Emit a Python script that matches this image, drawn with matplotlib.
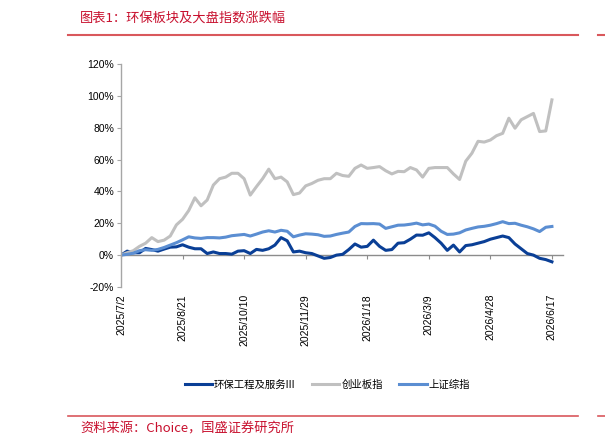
import matplotlib
matplotlib.use("Agg")
import matplotlib.pyplot as plt
import pandas as pd

plt.rcParams['font.family'] = ['Liberation Sans', 'Noto Sans CJK SC', 'DejaVu Sans']

# data, one value every 5 days from 2025/7/2
dates = pd.date_range('2025-07-02', periods=71, freq='5D')

hb = [0, 2.5, 1.5, 1.5, 4.2, 3.5, 2.5, 3.8, 5, 5.2,
      6.5, 5, 4, 4, 1, 2, 1, 1, 0.6, 2.5,
      2.8, 1, 3.6, 3, 4, 6.3, 11, 9, 2, 2.5,
      1.5, 1, -0.5, -2, -1.5, 0, 0.5, 3.5, 7, 5,
      5.5, 9.4, 5.5, 3, 3.5, 7.5, 7.8, 10, 12.6, 12.5,
      14, 11, 7.5, 3, 6.3, 2, 6, 6.5, 7.5, 8.5,
      10, 11, 12, 11, 7, 4, 1, 0, -2, -2.8, -4.2]

cyb = [0, 1.5, 2.8, 5.5, 7.5, 11, 8.5, 9.4, 12, 19,
       22.5, 28, 36, 31, 34.6, 44, 48, 49, 51.4, 51.4,
       48, 37.7, 43, 48, 54, 48, 49, 46, 38, 39,
       43.5, 45, 47, 48, 48, 51.4, 50, 49.5, 54.5, 56.6,
       54.5, 55, 55.6, 53, 51, 52.6, 52.4, 55, 53.5, 49,
       54.5, 55, 55, 55, 51, 47.5, 59, 64, 71.5, 71,
       72.3, 75, 76.5, 86, 79.7, 85, 87, 89, 77.6, 78, 97.5]

sz = [0, 0.5, 1.2, 2.8, 3.4, 3, 3.6, 4.8, 6.3, 7.8,
      9.6, 11.5, 10.8, 10.5, 11, 11, 10.8, 11.3, 12.2, 12.6,
      13, 12, 13.2, 14.5, 15.3, 14.5, 15.6, 15, 11.5, 12.6,
      13.4, 13.2, 12.8, 11.8, 12, 13, 13.8, 14.5, 18, 19.8,
      19.7, 19.8, 19.5, 16.8, 17.8, 18.8, 18.9, 19.4, 20.1, 19,
      19.5, 18.2, 15, 13, 13.2, 14, 15.8, 16.8, 17.7, 18.1,
      18.8, 19.8, 21, 19.8, 20, 18.8, 17.8, 16.5, 14.8, 17.5, 18]

names = ['环保工程及服务III', '创业板指', '上证综指']
colors = ['#0a3f96', '#c0c0c0', '#5b8ed2']

tick_dates = pd.date_range('2025-07-02', periods=8, freq='50D')

fig = plt.figure(figsize=(6.05, 4.47), dpi=100)
ax = fig.add_axes([0.2, 0.358, 0.7306, 0.4987])

for vals, name, c in zip([hb, cyb, sz], names, colors):
    ax.plot(dates, vals, color=c, lw=2.2, label=name, solid_joinstyle='round')

ax.set_ylim(-20, 120)
ax.set_yticks(range(-20, 121, 20))
ax.set_yticklabels([f'{v}%' for v in range(-20, 121, 20)], fontsize=7.5)
ax.set_xlim(pd.Timestamp('2025-07-02'), pd.Timestamp('2026-06-26'))
ax.set_xticks(tick_dates)
ax.set_xticklabels([f'{d.year}/{d.month}/{d.day}' for d in tick_dates],
                   rotation=90, fontsize=7.5)
ax.tick_params(axis='x', length=0, pad=5)
ax.tick_params(axis='y', length=3, color='#a6a6a6', pad=2)

for s in ['top', 'right', 'bottom']:
    ax.spines[s].set_visible(False)
ax.spines['left'].set_color('#a6a6a6')
ax.spines['left'].set_linewidth(1.0)

# zero line with its own tick marks
sec = ax.secondary_xaxis(1 / 7)
sec.set_xticks(tick_dates)
sec.set_xticklabels([])
sec.tick_params(length=3, color='#8c8c8c', direction='out')
sec.spines['bottom'].set_color('#8c8c8c')
sec.spines['bottom'].set_linewidth(1.0)
ax.set_zorder(1)
ax.patch.set_visible(False)

ax.legend(loc='center', bbox_to_anchor=(0.467, -0.44), ncol=3, frameon=False,
          handlelength=2.6, handletextpad=0.2, columnspacing=1.6,
          prop={'family': ['Noto Sans CJK SC', 'DejaVu Sans'], 'size': 7.5})

red = '#c8102e'
fig.text(80 / 605, 1 - 18 / 447, '图表1：环保板块及大盘指数涨跌幅', color=red,
         fontsize=9.5, va='center', ha='left', style='italic',
         family=['Noto Sans CJK SC', 'DejaVu Sans'])
fig.add_artist(plt.Line2D([68 / 605, 578 / 605], [1 - 35 / 447] * 2,
                          color='#d9585c', lw=1.5))
fig.add_artist(plt.Line2D([598 / 605, 1.0], [1 - 35 / 447] * 2,
                          color='#d9585c', lw=1.5))
fig.add_artist(plt.Line2D([68 / 605, 578 / 605], [1 - 416 / 447] * 2,
                          color='#d9585c', lw=1.2))
fig.add_artist(plt.Line2D([598 / 605, 1.0], [1 - 416 / 447] * 2,
                          color='#d9585c', lw=1.2))
fig.text(80 / 605, 1 - 429 / 447, '资料来源：Choice，国盛证券研究所', color=red,
         fontsize=9.5, va='center', ha='left', style='italic',
         family=['Noto Sans CJK SC', 'DejaVu Sans'])

fig.savefig('out.png', dpi=100)
